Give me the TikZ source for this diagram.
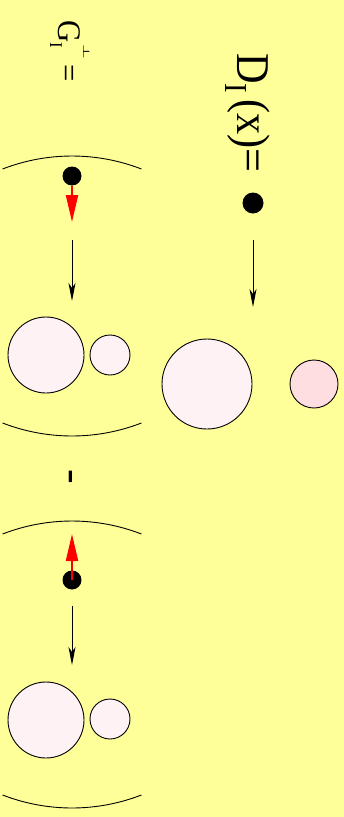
\documentclass[tikz,border=0pt]{standalone}
\usepackage{fontspec}
\setmainfont{Liberation Serif}
\newfontfamily\symfont{DejaVu Sans}
\usetikzlibrary{arrows.meta}
\definecolor{bg}{RGB}{255,255,153}
\definecolor{pinkA}{RGB}{255,242,245}
\definecolor{pinkB}{RGB}{255,222,225}
\tikzset{
  dot/.style={circle, fill=black, inner sep=0pt, minimum size=#1},
  ball/.style={circle, draw=black, line width=0.9pt, fill=pinkA, inner sep=0pt, minimum size=#1},
  flowarrow/.style={line width=0.9pt, -{Stealth[length=18pt,width=7pt,inset=5pt]}},
  redarrow/.style={red, line width=2pt, -{Triangle[length=27pt,width=12pt]}},
  lens/.style={line width=0.9pt},
  rotlabel/.style={rotate=-90, anchor=base west, inner sep=0pt}
}
\begin{document}
\begin{tikzpicture}[x=1pt,y=1pt]
\useasboundingbox (0,0) rectangle (344,-817);
\fill[bg] (0,0) rectangle (344,-817);

% ---- top: D_I(x) = dot --> circles
\node[rotlabel] (dlab) at (237,-53) {\scalebox{0.9}[1]{\fontsize{47}{47}\selectfont D\raisebox{-12pt}{\fontsize{32}{32}\selectfont I}\hspace{7pt}(x)=}};
\node[dot=21pt] (d0) at (253,-203) {};
\coordinate (a0s) at (253,-240);
\coordinate (a0e) at (253,-307);
\draw[flowarrow] (a0s) -- (a0e);
\node[ball=90pt] (bigA) at (207,-384) {};
\node[ball=48pt, fill=pinkB] (smallA) at (314,-384) {};

% ---- left: G_I^perp = ...
\node[rotlabel] (glab) at (58,-20) {\scalebox{0.93}[1]{\fontsize{33}{33}\selectfont G\rlap{\raisebox{-8pt}{\fontsize{18}{18}\selectfont I}}\raisebox{25pt}{\hspace{2pt}\scalebox{1.3}[0.65]{\symfont\fontsize{14}{14}\selectfont ⊥}}\hspace{6pt}=}};

% first term
\draw[lens] (72,-348) ++(111.2:192) arc[start angle=111.2, end angle=68.8, radius=192];
\node[dot=19pt] (g1) at (72,-176) {};
\coordinate (r1e) at (72,-222);
\draw[redarrow] (g1.south) -- (r1e);
\coordinate (b1s) at (72,-240);
\coordinate (b1e) at (72,-301);
\draw[flowarrow] (b1s) -- (b1e);
\node[ball=76pt] (bigB) at (46,-355) {};
\node[ball=40pt] (smallB) at (110,-355) {};
\draw[lens] (72,-244) ++(248.8:192) arc[start angle=248.8, end angle=291.2, radius=192];

% minus
\node[rotlabel] (minus) at (60,-469.3) {\fontsize{44}{44}\selectfont -};

% second term
\draw[lens] (72,-713) ++(111.2:192) arc[start angle=111.2, end angle=68.8, radius=192];
\node[dot=19pt] (g2) at (72,-580) {};
\coordinate (r2e) at (72,-534);
\draw[redarrow] (g2.center) -- (r2e);
\coordinate (b2s) at (72,-606);
\coordinate (b2e) at (72,-665);
\draw[flowarrow] (b2s) -- (b2e);
\node[ball=76pt] (bigC) at (46,-720) {};
\node[ball=40pt] (smallC) at (110,-719) {};
\draw[lens] (72,-616) ++(248.8:192) arc[start angle=248.8, end angle=291.2, radius=192];
\end{tikzpicture}
\end{document}
